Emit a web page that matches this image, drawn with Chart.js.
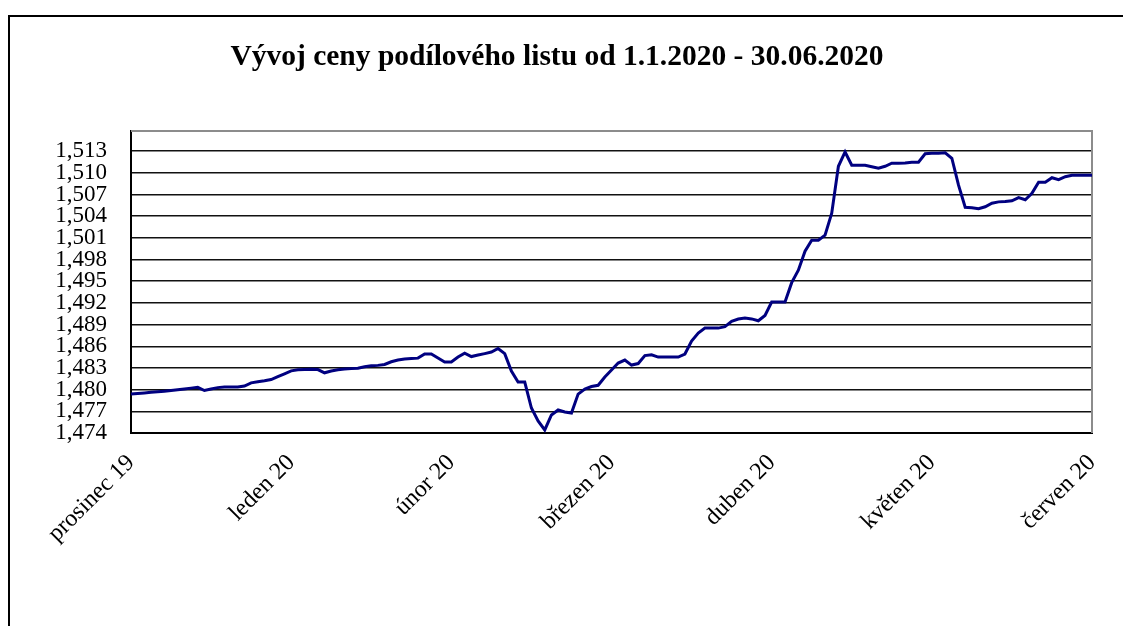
<!DOCTYPE html>
<html>
<head>
<meta charset="utf-8">
<script src="https://cdn.jsdelivr.net/npm/chart.js@4/dist/chart.umd.min.js"></script>
<style>
  html, body { margin: 0; padding: 0; background: #fff; overflow: hidden; }
  #frame { position: absolute; left: 8px; top: 15px; width: 1300px; height: 800px; border: 2px solid #000; }
  #wrap { position: absolute; left: 0; top: 0; width: 1123px; height: 626px; }
</style>
</head>
<body>
<div id="frame"></div>
<div id="wrap"><canvas id="price-chart"></canvas></div>
<script>
const chartTitle = "Vývoj ceny podílového listu od 1.1.2020 - 30.06.2020";

// month labels, every 24th point gets one
const monthLabels = ["prosinec 19", "leden 20", "únor 20", "březen 20", "duben 20", "květen 20", "červen 20"];
const pointsPerMonth = 24;

const yTicks = [1.474, 1.477, 1.480, 1.483, 1.486, 1.489, 1.492, 1.495, 1.498, 1.501, 1.504, 1.507, 1.510, 1.513];

// unit price
const prices = [
  1.47939, 1.47948, 1.47955, 1.47963, 1.47970, 1.47978, 1.47988, 1.47999, 1.48010, 1.48021,
  1.48032, 1.47988, 1.48008, 1.48028, 1.48036, 1.48036, 1.48036, 1.48050, 1.48094, 1.48108,
  1.48122, 1.48140, 1.48180, 1.48219, 1.48260, 1.48274, 1.48278, 1.48282, 1.48278, 1.48233,
  1.48257, 1.48275, 1.48285, 1.48291, 1.48296, 1.48317, 1.48331, 1.48336, 1.48349, 1.48386,
  1.48410, 1.48425, 1.48430, 1.48436, 1.48493, 1.48493, 1.48437, 1.48382, 1.48382, 1.48451,
  1.48506, 1.48458, 1.48479, 1.48499, 1.48520, 1.48570, 1.48499, 1.48257, 1.48105, 1.48105,
  1.47746, 1.47566, 1.47442, 1.47649, 1.47718, 1.47690, 1.47677, 1.47939, 1.48008, 1.48043,
  1.48060, 1.48174, 1.48271, 1.48368, 1.48410, 1.48340, 1.48361, 1.48472, 1.48483, 1.48451,
  1.48451, 1.48451, 1.48451, 1.48493, 1.48672, 1.48783, 1.48852, 1.48852, 1.48852, 1.48871,
  1.48945, 1.48977, 1.48990, 1.48979, 1.48953, 1.49026, 1.49212, 1.49212, 1.49212, 1.49481,
  1.49654, 1.49917, 1.50069, 1.50069, 1.50138, 1.50442, 1.51092, 1.51290, 1.51106, 1.51106,
  1.51106, 1.51086, 1.51065, 1.51092, 1.51134, 1.51134, 1.51138, 1.51148, 1.51148, 1.51265,
  1.51272, 1.51272, 1.51278, 1.51203, 1.50830, 1.50525, 1.50519, 1.50505, 1.50531, 1.50581,
  1.50599, 1.50604, 1.50614, 1.50657, 1.50629, 1.50719, 1.50871, 1.50871, 1.50933, 1.50906,
  1.50947, 1.50968, 1.50968, 1.50968, 1.50968
];

const labels = prices.map(function (_, i) {
  return i % pointsPerMonth === 0 ? monthLabels[i / pointsPerMonth] : "";
});

// gray top/right edge of the plot area
const plotFrame = {
  id: "plotFrame",
  beforeDatasetsDraw(chart) {
    const { ctx, chartArea: a } = chart;
    ctx.save();
    ctx.strokeStyle = "#8c8c8c";
    ctx.lineWidth = 2;
    ctx.beginPath();
    ctx.moveTo(a.left, a.top);
    ctx.lineTo(a.right, a.top);
    ctx.lineTo(a.right, a.bottom);
    ctx.stroke();
    ctx.restore();
  },
};

const serif = "'Liberation Serif', 'Times New Roman', serif";

document.addEventListener("DOMContentLoaded", function () {
  const el = document.getElementById("price-chart");
  new Chart(el, {
    type: "line",
    data: {
      labels: labels,
      datasets: [
        {
          label: "cena",
          data: prices,
          borderColor: "#000080",
          backgroundColor: "#000080",
          borderWidth: 3,
          pointRadius: 0,
          fill: false,
          tension: 0,
        },
      ],
    },
    options: {
      responsive: true,
      maintainAspectRatio: false,
      animation: false,
      layout: { padding: { left: 22, right: 31, top: 0, bottom: 0 } },
      scales: {
        x: {
          grid: { display: false, drawTicks: false },
          border: { color: "#000", width: 2 },
          afterFit: function (s) {
            s.height = 193;
            s.paddingRight = 0;
          },
          ticks: {
            autoSkip: false,
            maxRotation: 45,
            minRotation: 45,
            padding: 16,
            color: "#000",
            font: { family: serif, size: 24 },
          },
        },
        y: {
          min: 1.474,
          max: 1.5158,
          afterBuildTicks: function (s) {
            s.ticks = yTicks.map(function (v) { return { value: v }; });
          },
          afterFit: function (s) { s.width = 109; },
          grid: { color: "#111", lineWidth: 1.6, drawTicks: false },
          border: { color: "#000", width: 2 },
          ticks: {
            autoSkip: false,
            padding: 24,
            color: "#000",
            font: { family: serif, size: 23 },
            callback: function (v) { return v.toFixed(3).replace(".", ","); },
          },
        },
      },
      plugins: {
        legend: { display: false },
        tooltip: { enabled: false },
        title: {
          display: true,
          text: chartTitle,
          color: "#000",
          font: { family: serif, size: 29.5, weight: "bold" },
          padding: { top: 40, bottom: 55.6 },
        },
      },
    },
    plugins: [plotFrame],
  });
});
</script>
</body>
</html>
